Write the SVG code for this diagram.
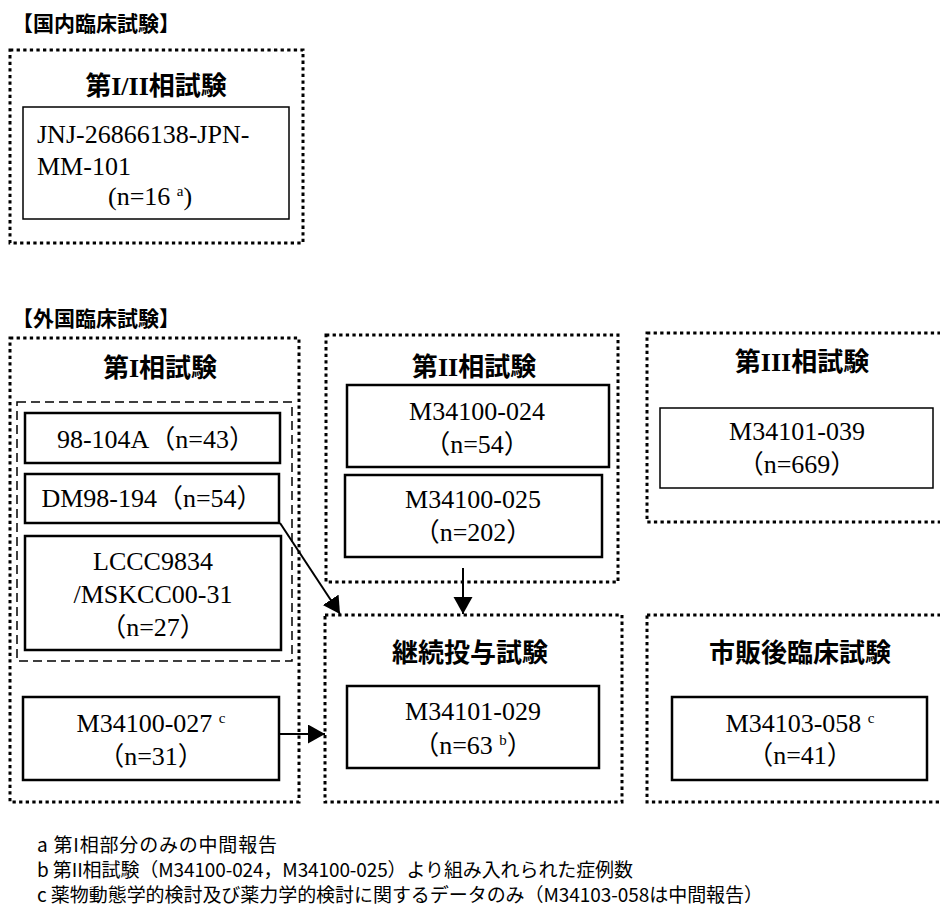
<svg xmlns="http://www.w3.org/2000/svg" width="940" height="908" viewBox="0 0 940 908">
<style>
.dot{fill:none;stroke:#000;stroke-width:3;stroke-dasharray:3.3 3.3}
.dash{fill:none;stroke:#000;stroke-width:1.5;stroke-dasharray:9 5}
.thin{fill:#fff;stroke:#000;stroke-width:1.5}
.thick{fill:#fff;stroke:#000;stroke-width:2.5}
.hdr{font-family:"Noto Sans CJK JP",sans-serif;font-weight:bold;font-size:21px}
.ttl{font-family:"Noto Sans CJK JP",sans-serif;font-weight:bold;font-size:26px;text-anchor:middle}
.ser{font-family:"Liberation Serif",serif}
.txt{font-family:"Liberation Serif","Noto Sans CJK JP",serif;font-size:26px;text-anchor:middle}
.lft{text-anchor:start}
.sup{font-size:15px}
.note{font-family:"Noto Sans CJK JP",sans-serif;font-size:19px}
.conn{stroke:#000;stroke-width:2;fill:none;marker-end:url(#ah)}
</style>
<defs>
<marker id="ah" markerUnits="userSpaceOnUse" markerWidth="18" markerHeight="20" refX="17" refY="9.5" orient="auto">
<path d="M0,0 L17,9.5 L0,19 z" fill="#000"/>
</marker>
</defs>
<rect width="940" height="908" fill="#fff"/>

<text class="hdr" x="12" y="31">【国内臨床試験】</text>
<text class="hdr" x="12" y="326">【外国臨床試験】</text>

<g id="domestic-phase12">
<rect class="dot" x="10" y="50" width="293" height="193"/>
<text class="ttl" x="156" y="95">第<tspan class="ser">I/II</tspan>相試験</text>
<g id="jnj">
<rect class="thin" x="23" y="107" width="266" height="112"/>
<text class="txt lft" x="37" y="143">JNJ-26866138-JPN-</text>
<text class="txt lft" x="37" y="175">MM-101</text>
<text class="txt lft" x="108" y="205">(n=16 <tspan class="sup" dy="-9">a</tspan><tspan dy="9">)</tspan></text>
</g>
</g>

<g id="phase1">
<rect class="dot" x="10" y="338" width="289" height="464"/>
<text class="ttl" x="160" y="377">第<tspan class="ser">I</tspan>相試験</text>
<rect class="dash" x="17" y="402" width="275" height="259"/>
<g id="s98-104A">
<rect class="thick" x="25" y="413" width="255" height="50"/>
<text class="txt" x="156" y="448">98-104A（n=43）</text>
</g>
<g id="dm98-194">
<rect class="thick" x="25" y="474" width="254" height="49"/>
<text class="txt" x="152" y="507">DM98-194（n=54）</text>
</g>
<g id="lccc9834">
<rect class="thick" x="25" y="536" width="256" height="114"/>
<text class="txt" x="153" y="570">LCCC9834</text>
<text class="txt" x="153" y="603">/MSKCC00-31</text>
<text class="txt" x="153" y="636">（n=27）</text>
</g>
<g id="m34100-027">
<rect class="thick" x="23" y="697" width="256" height="83"/>
<text class="txt" x="151" y="732">M34100-027 <tspan class="sup" dy="-9">c</tspan></text>
<text class="txt" x="151" y="765">（n=31）</text>
</g>
</g>

<g id="phase2">
<rect class="dot" x="326" y="335" width="292" height="247"/>
<text class="ttl" x="474" y="376">第<tspan class="ser">II</tspan>相試験</text>
<g id="m34100-024">
<rect class="thick" x="347" y="385" width="262" height="82"/>
<text class="txt" x="477" y="420">M34100-024</text>
<text class="txt" x="477" y="453">（n=54）</text>
</g>
<g id="m34100-025">
<rect class="thick" x="345" y="475" width="257" height="82"/>
<text class="txt" x="473" y="508">M34100-025</text>
<text class="txt" x="473" y="541">（n=202）</text>
</g>
</g>

<g id="phase3">
<rect class="dot" x="647" y="333" width="300" height="189"/>
<text class="ttl" x="802" y="371">第<tspan class="ser">III</tspan>相試験</text>
<g id="m34101-039">
<rect class="thin" x="660" y="408" width="273" height="80"/>
<text class="txt" x="797" y="440">M34101-039</text>
<text class="txt" x="797" y="473">（n=669）</text>
</g>
</g>

<g id="extension">
<rect class="dot" x="325" y="615" width="297" height="187"/>
<text class="ttl" x="470" y="662">継続投与試験</text>
<g id="m34101-029">
<rect class="thick" x="347" y="686" width="252" height="82"/>
<text class="txt" x="473" y="720">M34101-029</text>
<text class="txt" x="473" y="754">（n=63 <tspan class="sup" dy="-9">b</tspan><tspan dy="9">）</tspan></text>
</g>
</g>

<g id="postmarketing">
<rect class="dot" x="647" y="615" width="300" height="187"/>
<text class="ttl" x="800" y="662">市販後臨床試験</text>
<g id="m34103-058">
<rect class="thick" x="672" y="697" width="255" height="83"/>
<text class="txt" x="800" y="732">M34103-058 <tspan class="sup" dy="-9">c</tspan></text>
<text class="txt" x="800" y="764">（n=41）</text>
</g>
</g>

<g id="connectors">
<line class="conn" x1="280" y1="523" x2="340" y2="614"/>
<line class="conn" x1="463" y1="568" x2="463" y2="614"/>
<line class="conn" x1="279" y1="734" x2="325" y2="734"/>
</g>

<g id="notes">
<text class="note" x="37" y="852" textLength="240">a 第I相部分のみの中間報告</text>
<text class="note" x="37" y="877" textLength="596">b 第II相試験（M34100-024，M34100-025）より組み入れられた症例数</text>
<text class="note" x="37" y="902" textLength="726">c 薬物動態学的検討及び薬力学的検討に関するデータのみ（M34103-058は中間報告）</text>
</g>
</svg>
